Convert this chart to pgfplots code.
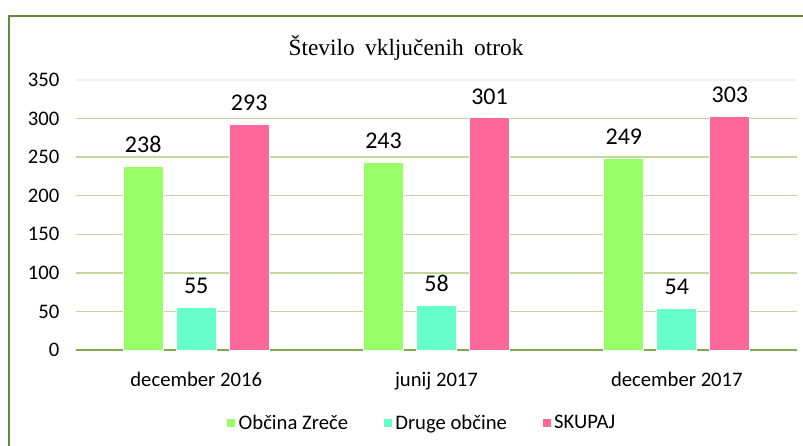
\documentclass[border=0pt]{standalone}
\usepackage{pgfplots}
\pgfplotsset{compat=1.18}
\usepackage{fontspec}
\setmainfont{Carlito}
\newfontfamily\titlefont{Liberation Serif}
\definecolor{cGreen}{RGB}{153,255,102}
\definecolor{cCyan}{RGB}{102,255,204}
\definecolor{cPink}{RGB}{255,102,153}
\definecolor{cBorder}{RGB}{99,140,56}
\definecolor{cGrid}{RGB}{195,214,155}
\definecolor{cAxis}{RGB}{130,170,80}
\begin{document}
\begin{tikzpicture}
\useasboundingbox (-57pt,-72pt) rectangle (545.25pt,262.5pt);
\draw[cBorder, line width=2pt] (-50.25pt,-90pt) -- (-50.25pt,250.5pt) -- (570pt,250.5pt);
\begin{axis}[
  at={(0,0)}, anchor=south west,
  scale only axis,
  width=540.75pt, height=202.5pt,
  xmin=-0.5, xmax=2.5,
  ymin=0, ymax=350,
  ytick={0,50,...,300},
  extra y ticks={350},
  extra y tick style={grid style={draw=gray!12, line width=0.8pt}},
  xtick={0,1,2},
  xticklabels={december 2016, junij 2017, december 2017},
  axis x line*=bottom,
  x axis line style={draw=cAxis, line width=1.2pt, -},
  y axis line style={draw=none},
  tick style={draw=none},
  ymajorgrids,
  grid style={draw=cGrid, line width=1.1pt},
  ybar=9.75pt,
  bar width=30pt,
  tick label style={font=\fontsize{15.5}{18}\selectfont},
  yticklabel style={xshift=-9pt},
  xticklabel style={yshift=-9pt},
  /pgf/number format/assume math mode=true,
  nodes near coords,
  every node near coord/.append style={font=\fontsize{18}{21}\selectfont, yshift=6.5pt, black},
  legend style={at={(0.48,-0.27)}, anchor=center, draw=none, fill=none,
    legend columns=-1, font=\fontsize{15.5}{18}\selectfont,
    /tikz/every even column/.append style={column sep=24pt}},
  legend image code/.code={\fill[#1] (0pt,-3.4pt) rectangle (6.8pt,3.4pt);},
]
\addplot[fill=cGreen, draw=white, line width=0.6pt] coordinates {(0,238) (1,243) (2,249)};
\addplot[fill=cCyan, draw=white, line width=0.6pt] coordinates {(0,55) (1,58) (2,54)};
\addplot[fill=cPink, draw=white, line width=0.6pt] coordinates {(0,293) (1,301) (2,303)};
\legend{Občina Zreče, Druge občine, SKUPAJ}
\end{axis}
\node[font=\titlefont\fontsize{17.5}{20}\selectfont] at (247.5pt,226.5pt) {Število\hspace{0.45em}vključenih\hspace{0.45em}otrok};
\end{tikzpicture}
\end{document}
